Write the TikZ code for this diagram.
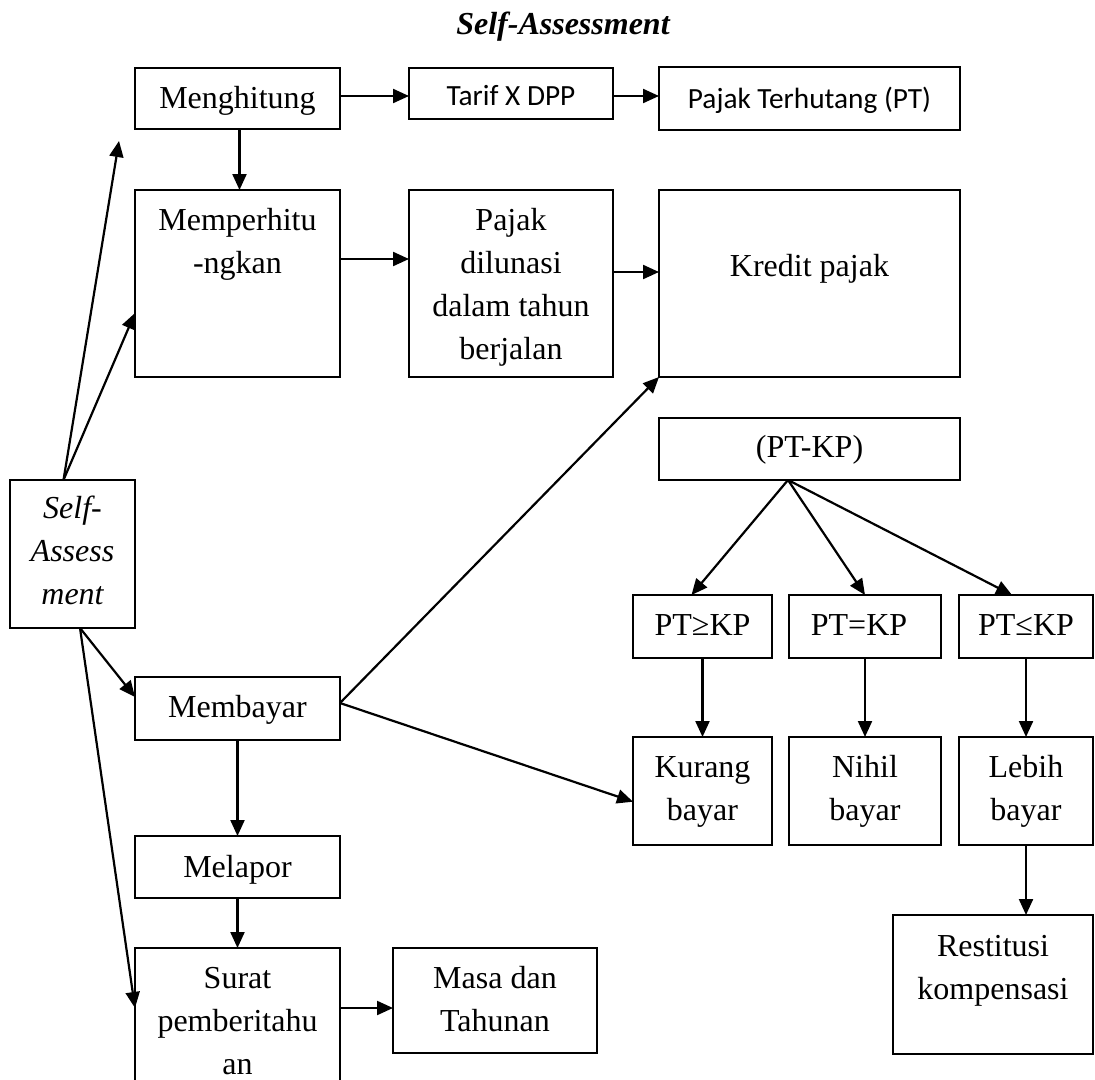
\documentclass[tikz,border=0pt]{standalone}
\usepackage{fontspec}
\setmainfont{Liberation Serif}
\newfontfamily\calfont{Carlito}
\usetikzlibrary{arrows.meta,calc}

\tikzset{
  box/.style={draw, line width=2pt, rectangle, inner sep=0pt, outer sep=0pt},
  txt/.style={font=\fontsize{32}{43}\selectfont, align=center, inner sep=0pt, anchor=north},
  sanstxt/.style={font=\calfont\fontsize{29.3}{36}\selectfont, inner sep=0pt, anchor=base},
  arr/.style={line width=2.2pt, -{Triangle[length=16pt,width=14pt]}}
}
% first-line strut: the text node's north edge sits 30pt above the first baseline
\newcommand\fl{\rule{0pt}{30pt}}

\begin{document}
\begin{tikzpicture}[x=1pt,y=-1pt]
\useasboundingbox (0,0) rectangle (1095,1079);
\clip (0,0) rectangle (1095,1079);

% title
\node[font=\bfseries\itshape\fontsize{32}{43}\selectfont, inner sep=0pt, anchor=base] (title) at (563,34) {Self-Assessment};

% boxes
\node[box, minimum width=205pt, minimum height=61pt]  (mg)   at (237.5,98.5) {};
\node[box, minimum width=204pt, minimum height=51pt]  (tarif) at (511,93.5) {};
\node[box, minimum width=301pt, minimum height=63pt]  (pt)   at (809.5,98.5) {};
\node[box, minimum width=205pt, minimum height=187pt] (mp)   at (237.5,283.5) {};
\node[box, minimum width=204pt, minimum height=187pt] (pd)   at (511,283.5) {};
\node[box, minimum width=301pt, minimum height=187pt] (kr)   at (809.5,283.5) {};
\node[box, minimum width=301pt, minimum height=62pt]  (ptkp) at (809.5,449) {};
\node[box, minimum width=125pt, minimum height=148pt] (self) at (72.5,554) {};
\node[box, minimum width=139pt, minimum height=63pt]  (ge)   at (702.5,626.5) {};
\node[box, minimum width=152pt, minimum height=63pt]  (eq)   at (865,626.5) {};
\node[box, minimum width=134pt, minimum height=63pt]  (le)   at (1026,626.5) {};
\node[box, minimum width=205pt, minimum height=63pt]  (mb)   at (237.5,708.5) {};
\node[box, minimum width=139pt, minimum height=108pt] (kb)   at (702.5,791) {};
\node[box, minimum width=152pt, minimum height=108pt] (nb)   at (865,791) {};
\node[box, minimum width=134pt, minimum height=108pt] (lb)   at (1026,791) {};
\node[box, minimum width=205pt, minimum height=62pt]  (ml)   at (237.5,867) {};
\node[box, minimum width=205pt, minimum height=152pt] (sp)   at (237.5,1024) {};
\node[box, minimum width=204pt, minimum height=105pt] (mt)   at (495,1000.5) {};
\node[box, minimum width=200pt, minimum height=139pt] (rk)   at (993,984.5) {};

% texts
\node[txt] (mg-t)   at (237.5,78)  {\fl Menghitung};
\node[sanstxt] (tarif-t) at (511,105) {Tarif X DPP};
\node[sanstxt] (pt-t)    at (809.5,108) {Pajak Terhutang (PT)};
\node[txt] (mp-t)   at (237.5,200) {\fl Memperhitu\\-ngkan};
\node[txt] (pd-t)   at (511,200)   {\fl Pajak\\dilunasi\\dalam tahun\\berjalan};
\node[txt] (kr-t)   at (809.5,246) {\fl Kredit pajak};
\node[txt] (ptkp-t) at (809.5,427) {\fl (PT-KP)};
\node[txt, font=\itshape\fontsize{32}{43}\selectfont] (self-t) at (72.5,488) {\fl Self-\\Assess\\ment};
\node[txt] (ge-t)   at (702.5,605) {\fl PT≥KP};
\node[txt] (eq-t)   at (859,605)   {\fl PT=KP};
\node[txt] (le-t)   at (1026,605)  {\fl PT≤KP};
\node[txt] (mb-t)   at (237.5,687) {\fl Membayar};
\node[txt] (kb-t)   at (702.5,747) {\fl Kurang\\bayar};
\node[txt] (nb-t)   at (865,747)   {\fl Nihil\\bayar};
\node[txt] (lb-t)   at (1026,747)  {\fl Lebih\\bayar};
\node[txt] (ml-t)   at (237.5,847) {\fl Melapor};
\node[txt] (sp-t)   at (237.5,958) {\fl Surat\\pemberitahu\\an};
\node[txt] (mt-t)   at (495,958)   {\fl Masa dan\\Tahunan};
\node[txt] (rk-t)   at (993,926)   {\fl Restitusi\\kompensasi};

% top row
\draw[arr] ([yshift=2.5pt]mg.east) -- ([yshift=2.5pt]mg.east -| tarif.west);
\draw[arr] ([yshift=-2.5pt]tarif.east) -- ([yshift=-2.5pt]tarif.east -| pt.west);
\draw[arr] ([xshift=2pt]mg.south) -- ([xshift=2pt]mg.south |- mp.north);

% second row
\draw[arr] ([yshift=24.5pt]mp.east) -- ([yshift=24.5pt]mp.east -| pd.west);
\draw[arr] ([yshift=11.5pt]pd.east) -- ([yshift=11.5pt]pd.east -| kr.west);

% from the Self-Assessment box
\draw[arr] ([xshift=-9pt]self.north) -- ($(mg.south west)+(-16,12)$);
\draw[arr] ([xshift=-9pt]self.north) -- ([yshift=-29.5pt]mp.west);
\draw[arr] ([xshift=7.5pt]self.south) -- ([yshift=11.5pt]mb.west);
\draw[arr] ([xshift=7.5pt]self.south) -- ([yshift=16pt]sp.west);

% from Membayar
\draw[arr] ([yshift=5.5pt]mb.east) -- (kr.south west);
\draw[arr] ([yshift=5.5pt]mb.east) -- ([yshift=-10.7pt]kb.west);
\draw[arr] (mb.south) -- (ml.north);
\draw[arr] (ml.south) -- (sp.north);
\draw[arr] ([yshift=16pt]sp.east) -- ([yshift=16pt]sp.east -| mt.west);

% (PT-KP) branches
\draw[arr] ([xshift=-21.5pt]ptkp.south) -- ([xshift=-11pt]ge.north);
\draw[arr] ([xshift=-21.5pt]ptkp.south) -- (eq.north);
\draw[arr] ([xshift=-21.5pt]ptkp.south) -- ([xshift=-14pt]le.north);
\draw[arr] (ge.south) -- (kb.north);
\draw[arr] (eq.south) -- (nb.north);
\draw[arr] (le.south) -- (lb.north);
\draw[arr] (lb.south) -- (lb.south |- rk.north);
\end{tikzpicture}
\end{document}
